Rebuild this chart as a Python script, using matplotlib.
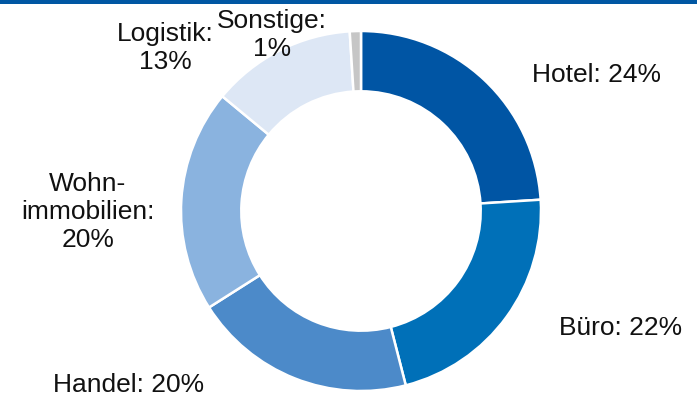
import matplotlib
matplotlib.use("Agg")
import matplotlib.pyplot as plt
from matplotlib.patches import Rectangle

# Share of segments (percent), clockwise from 12 o'clock
categories = ["Hotel", "Büro", "Handel", "Wohn-\nimmobilien", "Logistik", "Sonstige"]
shares = [24, 22, 20, 20, 13, 1]
colors = ["#0055A4", "#0070B8", "#4C8AC9", "#8AB3DF", "#DDE7F5", "#C6C6C6"]

# Label anchor positions (data units, ring radius = 1)
label_pos = [(1.31, 0.756), (1.44, -0.65), (-1.294, -0.967),
             (-1.517, -0.006), (-1.089, 0.906), (-0.494, 0.98)]

plt.rcParams["font.family"] = ["Liberation Sans", "DejaVu Sans"]

fig = plt.figure(figsize=(6.97, 3.99), dpi=100)
ax = fig.add_axes([0, 0, 1, 1])
ax.axis("off")

ax.pie(shares, colors=colors, startangle=90, counterclock=False, radius=1.0,
       wedgeprops=dict(width=0.335, edgecolor="white", linewidth=1.8))
ax.set_xlim(-361 / 180, (697 - 361) / 180)
ax.set_ylim(-(399 - 211) / 180, 211 / 180)
ax.set_aspect("auto")

for name, val, (x, y) in zip(categories, shares, label_pos):
    if "\n" in name or name in ("Logistik", "Sonstige"):
        text = f"{name}:\n{val}%"
    else:
        text = f"{name}: {val}%"
    ax.text(x, y, text, ha="center", va="center", fontsize=19,
            color="#111111", linespacing=1.2)

# Rule along the top edge
fig.add_artist(Rectangle((0, 1 - 4 / 399), 1, 4 / 399, transform=fig.transFigure,
                         color="#0057A3", lw=0))

fig.savefig("out.png", dpi=100)
